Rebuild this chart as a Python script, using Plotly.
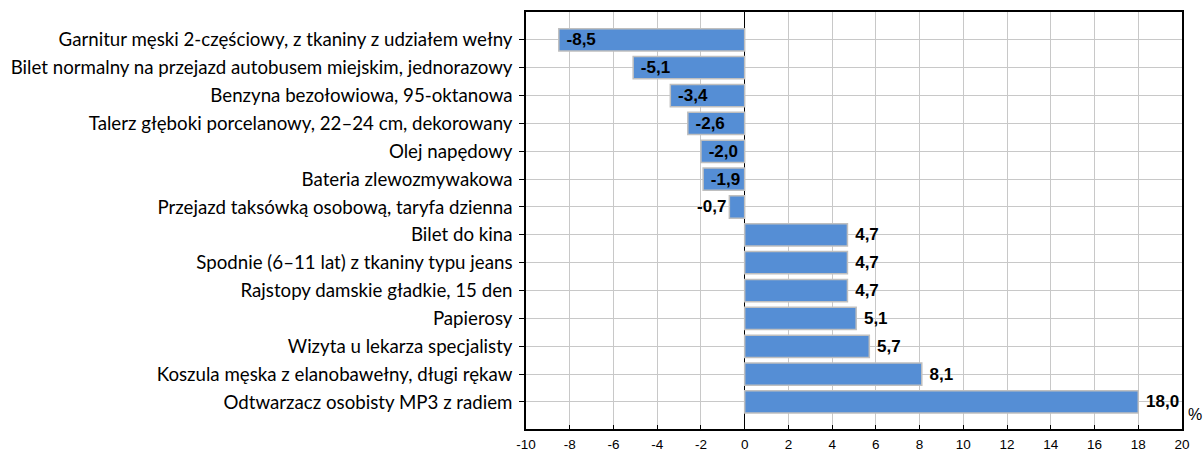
import plotly.graph_objects as go

categories = [
    "Garnitur męski 2-częściowy, z tkaniny z udziałem wełny",
    "Bilet normalny na przejazd autobusem miejskim, jednorazowy",
    "Benzyna bezołowiowa, 95-oktanowa",
    "Talerz głęboki porcelanowy, 22–24 cm, dekorowany",
    "Olej napędowy",
    "Bateria zlewozmywakowa",
    "Przejazd taksówką osobową, taryfa dzienna",
    "Bilet do kina",
    "Spodnie (6–11 lat) z tkaniny typu jeans",
    "Rajstopy damskie gładkie, 15 den",
    "Papierosy",
    "Wizyta u lekarza specjalisty",
    "Koszula męska z elanobawełny, długi rękaw",
    "Odtwarzacz osobisty MP3 z radiem",
]
values = [-8.5, -5.1, -3.4, -2.6, -2.0, -1.9, -0.7, 4.7, 4.7, 4.7, 5.1, 5.7, 8.1, 18.0]
x_ticks = list(range(-10, 21, 2))
x_tick_labels = [str(t) for t in x_ticks]
unit_label = "%"

NB = "\u00a0"
texts = []
positions = []
for v in values:
    s = f"{v:.1f}".replace(".", ",")
    if v < -1.5:
        texts.append(NB + s)
        positions.append("inside")
    elif v < 0:
        texts.append(s)
        positions.append("outside")
    else:
        texts.append(NB + s)
        positions.append("outside")

vfont = dict(family="Liberation Sans", size=17, color="black", weight="bold")

fig = go.Figure()
fig.add_trace(go.Bar(
    y=categories, x=values, orientation="h",
    marker=dict(color="#558ED5", line=dict(color="#BFBFBF", width=1.5)),
    width=0.8,
    text=texts, textposition=positions, insidetextanchor="end",
    textfont=vfont, insidetextfont=vfont, outsidetextfont=vfont,
    constraintext="none", cliponaxis=False,
    hoverinfo="skip",
))

n = len(categories)
yrange = [n - 0.03, -1.0]

fig.update_layout(
    width=1203, height=453,
    margin=dict(l=526, r=21, t=12, b=24),
    plot_bgcolor="white", paper_bgcolor="white",
    showlegend=False,
    xaxis=dict(
        range=[-10, 20], tickvals=x_ticks, ticktext=x_tick_labels,
        automargin=False,
        showgrid=True, gridcolor="#C8C8C8", gridwidth=1,
        zeroline=True, zerolinecolor="black", zerolinewidth=1,
        showline=True, linecolor="black", linewidth=1.5, mirror=True,
        ticks="inside", ticklen=4, tickcolor="black",
        ticklabelstandoff=2,
        tickfont=dict(family="Liberation Sans", size=13.5, color="black"),
        fixedrange=True,
    ),
    yaxis=dict(
        type="category", categoryorder="array", categoryarray=categories,
        range=yrange, automargin=False,
        showgrid=True, gridcolor="#C8C8C8", gridwidth=1,
        showline=True, linecolor="black", linewidth=1.5, mirror=True,
        ticks="outside", ticklen=5, tickcolor="black",
        ticklabelstandoff=3,
        tickfont=dict(family="Lato", size=18.7, color="black"),
    ),
    xaxis2=dict(
        overlaying="x", side="top", anchor="y", automargin=False,
        range=[-0.59, 17.04], tick0=0, dtick=1,
        ticks="inside", ticklen=4, tickcolor="black",
        showticklabels=False, showgrid=False, zeroline=False, showline=False,
    ),
    yaxis2=dict(
        overlaying="y", side="right", anchor="x", automargin=False,
        range=yrange, tickvals=list(range(n)),
        ticks="inside", ticklen=4, tickcolor="black",
        showticklabels=False, showgrid=False, zeroline=False, showline=False,
    ),
    annotations=[dict(
        text=unit_label, xref="paper", yref="paper", x=1.006, y=0.035,
        xanchor="left", yanchor="middle", showarrow=False,
        font=dict(family="Liberation Sans", size=16, color="black"),
    )],
)

fig.write_html("out.html", config={"displayModeBar": False},
               post_script="document.body.style.margin='0';")
